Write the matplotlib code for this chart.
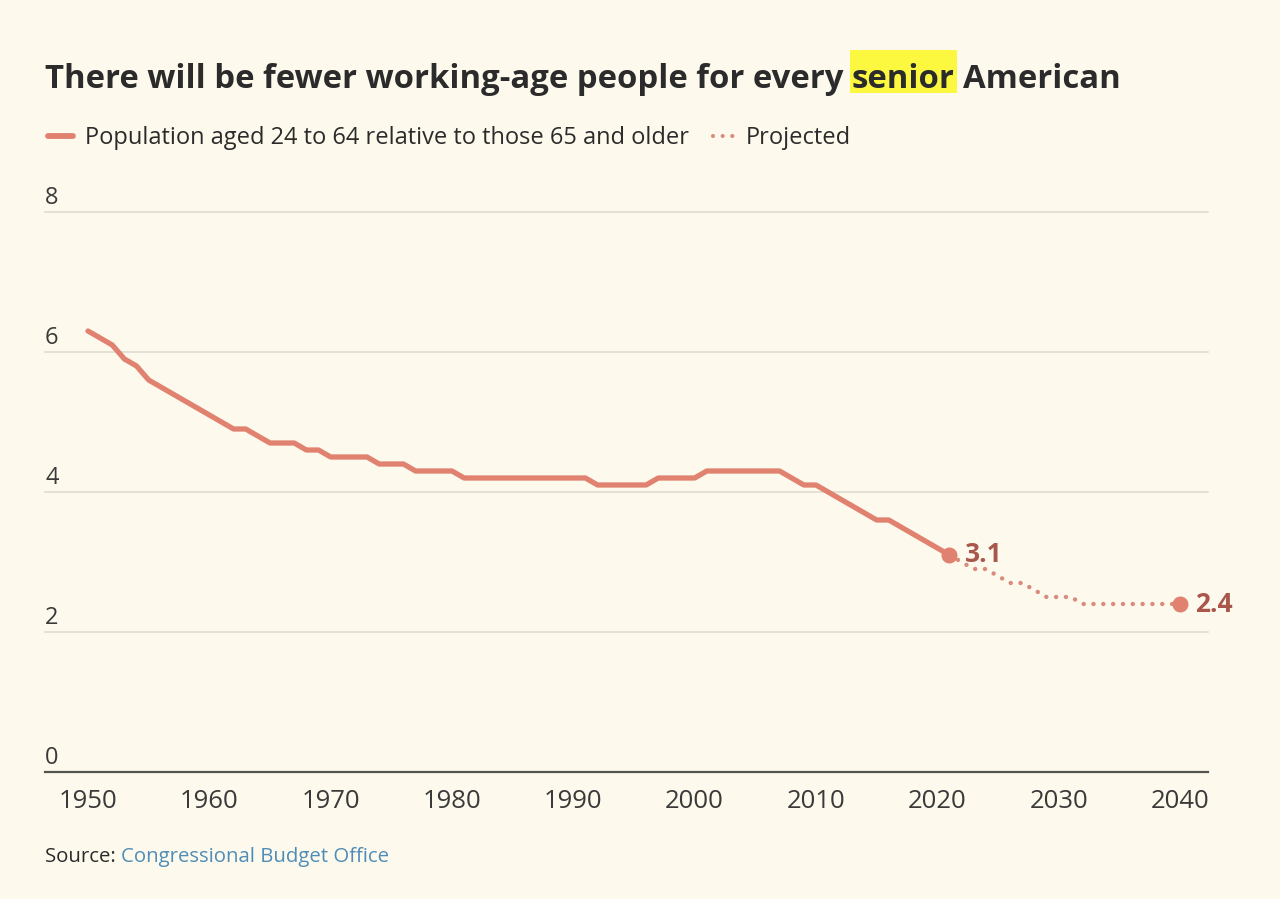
import numpy as np
import matplotlib.pyplot as plt
from matplotlib.lines import Line2D
from matplotlib.patches import Rectangle

plt.rcParams['font.family'] = ['Open Sans', 'DejaVu Sans']

# data
hist_years = np.arange(1950, 2022)
hist_ratio = [6.3, 6.2, 6.1, 5.9, 5.8, 5.6, 5.5, 5.4, 5.3, 5.2,
              5.1, 5.0, 4.9, 4.9, 4.8, 4.7, 4.7, 4.7, 4.6, 4.6,
              4.5, 4.5, 4.5, 4.5, 4.4, 4.4, 4.4, 4.3, 4.3, 4.3,
              4.3, 4.2, 4.2, 4.2, 4.2, 4.2, 4.2, 4.2, 4.2, 4.2,
              4.2, 4.2, 4.1, 4.1, 4.1, 4.1, 4.1, 4.2, 4.2, 4.2,
              4.2, 4.3, 4.3, 4.3, 4.3, 4.3, 4.3, 4.3, 4.2, 4.1,
              4.1, 4.0, 3.9, 3.8, 3.7, 3.6, 3.6, 3.5, 3.4, 3.3,
              3.2, 3.1]
proj_years = np.arange(2021, 2041)
proj_ratio = [3.1, 3.0, 2.9, 2.9, 2.8, 2.7, 2.7, 2.6, 2.5, 2.5,
              2.5, 2.4, 2.4, 2.4, 2.4, 2.4, 2.4, 2.4, 2.4, 2.4]
yticks = [0, 2, 4, 6, 8]
xticks = np.arange(1950, 2041, 10)

bg = '#fdfaed'
line_c = '#e0826f'
dot_c = '#d98c7c'
lab_c = '#a9564b'
txt_c = '#2b2b2b'

W, H = 1280, 899
fig = plt.figure(figsize=(12.8, 8.99), dpi=100, facecolor=bg)
ax = fig.add_axes([45 / W, 1 - 772 / H, (1208 - 45) / W, (772 - 212) / H])
ax.set_facecolor(bg)

ax.plot(hist_years, hist_ratio, color=line_c, lw=3.8, solid_capstyle='round',
        solid_joinstyle='round', zorder=3)
ax.plot(proj_years, proj_ratio, color=dot_c, lw=3.2, linestyle=(0, (0.01, 2.2)),
        dash_capstyle='round', zorder=3)
ax.plot([hist_years[-1], proj_years[-1]], [hist_ratio[-1], proj_ratio[-1]], 'o',
        color=line_c, ms=10.5, zorder=4, clip_on=False)

for yr, val in [(hist_years[-1], hist_ratio[-1]), (proj_years[-1], proj_ratio[-1])]:
    ax.annotate(f'{val:.1f}', (yr, val), xytext=(11, 0), textcoords='offset points',
                va='center', ha='left', fontsize=19, fontweight='bold', color=lab_c)

ax.set_xlim(1946.456, 2042.31)
ax.set_ylim(0, 8)
for s in ['top', 'right', 'left']:
    ax.spines[s].set_visible(False)
ax.spines['bottom'].set_color('#555550')
ax.spines['bottom'].set_linewidth(1.6)
for v in yticks[1:]:
    ax.axhline(v, color='#dcdad0', lw=1.1, zorder=1, clip_on=False)
for v in yticks:
    ax.text(0, v + 0.115, str(v), transform=ax.get_yaxis_transform(),
            ha='left', va='baseline', fontsize=17, color='#3a3a3a')
ax.set_yticks([])
ax.set_xticks(xticks)
ax.set_xticklabels([str(x) for x in xticks], fontsize=18.5, color='#3a3a3a')
ax.tick_params(axis='x', length=0, pad=12)

# title with highlighted word
fig.canvas.draw()
r = fig.canvas.get_renderer()
ty = 1 - 88 / H
tkw = dict(fontsize=23.7, fontweight='bold', color=txt_c, va='baseline')
t1 = fig.text(45 / W, ty, 'There will be fewer working-age people for every', **tkw)
sp = fig.text(0, 0, 'a a', **tkw)
sp2 = fig.text(0, 0, 'aa', **tkw)
space = (sp.get_window_extent(r).width - sp2.get_window_extent(r).width) / W
sp.remove()
sp2.remove()
x1 = t1.get_window_extent(r).x1 / W + space
t2 = fig.text(x1, ty, 'senior', **tkw)
e2 = t2.get_window_extent(r)
fig.add_artist(Rectangle(((e2.x0 - 2) / W, 1 - 93 / H), (e2.width + 4) / W, 43 / H,
                         transform=fig.transFigure, facecolor='#fbf83f',
                         edgecolor='none', zorder=0))
fig.text(e2.x1 / W + space, ty, 'American', **tkw)

# legend
ly = 1 - 136 / H
lty = 1 - 138 / H
fig.add_artist(Line2D([48 / W, 73 / W], [ly, ly], transform=fig.transFigure,
                      color=line_c, lw=4.2, solid_capstyle='round'))
fig.text(85 / W, lty, 'Population aged 24 to 64 relative to those 65 and older',
         fontsize=17, color=txt_c, va='center')
fig.add_artist(Line2D([713 / W, 733 / W], [ly, ly], transform=fig.transFigure,
                      color=dot_c, lw=3.0, linestyle=(0, (0.01, 2.3)),
                      dash_capstyle='round'))
fig.text(746 / W, lty, 'Projected', fontsize=17, color=txt_c, va='center')

# source
sy = 1 - 857 / H
s1 = fig.text(45 / W, sy, 'Source: ', fontsize=14.7, color=txt_c, va='center')
fig.canvas.draw()
sx = s1.get_window_extent(fig.canvas.get_renderer()).x1 / W
fig.text(sx, sy, 'Congressional Budget Office', fontsize=14.7, color='#4f8db8',
         va='center')

plt.savefig('out.png', dpi=100, facecolor=bg)
